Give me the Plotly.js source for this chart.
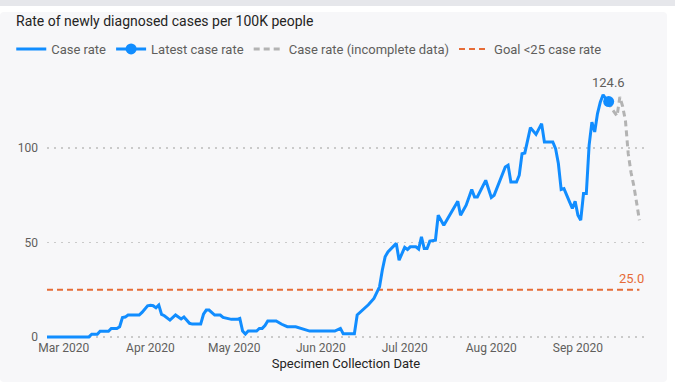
<!DOCTYPE html>
<html>
<head>
<meta charset="utf-8">
<script src="https://cdn.plot.ly/plotly-3.0.1.min.js"></script>
<style>
  html, body { margin: 0; padding: 0; background: #ffffff; width: 675px; height: 389px; overflow: hidden; }
  #topband { position: absolute; left: 0; top: 0; width: 675px; height: 6px; background: #e6e7eb; }
  #card { position: absolute; left: 0; top: 12px; width: 667px; height: 370px; background: #f7f7f9; border-radius: 4px; }
  #chart { position: absolute; left: 0; top: 0; width: 675px; height: 389px; }
</style>
</head>
<body>
<div id="topband"></div>
<div id="card"></div>
<div id="chart"></div>
<script>
// Case rate (complete data)
const caseDates = ['2020-02-24','2020-03-10','2020-03-11','2020-03-13','2020-03-14','2020-03-17','2020-03-18','2020-03-20','2020-03-21','2020-03-22','2020-03-23','2020-03-24','2020-03-28','2020-03-29','2020-03-31','2020-04-01','2020-04-02','2020-04-03','2020-04-04','2020-04-05','2020-04-06','2020-04-08','2020-04-10','2020-04-12','2020-04-13','2020-04-15','2020-04-16','2020-04-19','2020-04-20','2020-04-21','2020-04-22','2020-04-24','2020-04-26','2020-04-27','2020-04-30','2020-05-02','2020-05-03','2020-05-04','2020-05-05','2020-05-06','2020-05-09','2020-05-10','2020-05-11','2020-05-12','2020-05-13','2020-05-16','2020-05-18','2020-05-20','2020-05-23','2020-05-25','2020-05-28','2020-06-06','2020-06-08','2020-06-09','2020-06-13','2020-06-14','2020-06-15','2020-06-17','2020-06-18','2020-06-20','2020-06-22','2020-06-23','2020-06-24','2020-06-25','2020-06-26','2020-06-28','2020-06-29','2020-07-01','2020-07-02','2020-07-03','2020-07-05','2020-07-06','2020-07-07','2020-07-08','2020-07-09','2020-07-10','2020-07-12','2020-07-13','2020-07-15','2020-07-20','2020-07-21','2020-07-23','2020-07-25','2020-07-26','2020-07-27','2020-07-30','2020-08-01','2020-08-02','2020-08-06','2020-08-07','2020-08-08','2020-08-10','2020-08-11','2020-08-12','2020-08-13','2020-08-15','2020-08-17','2020-08-19','2020-08-20','2020-08-23','2020-08-24','2020-08-25','2020-08-26','2020-08-27','2020-08-29','2020-08-30','2020-08-31','2020-09-01','2020-09-02','2020-09-03','2020-09-04','2020-09-05','2020-09-06','2020-09-07','2020-09-08','2020-09-09','2020-09-10','2020-09-11','2020-09-12'];
const caseRate = [0,0,1.4,1.4,3,3,4.5,4.5,5.4,10.2,10.5,11.6,11.6,13,16.5,16.8,16.5,15.4,16.9,11.9,11.2,8.9,11.6,9.5,10.5,7.2,6.8,6.8,12,14.2,14.2,11.6,11.6,10.3,9.3,9.3,9.8,3.1,1.5,3.1,3.1,4.5,4.5,6,8.4,8.4,6.7,5.4,5.4,4.5,3.1,3.1,4.5,1.7,1.7,11.6,13,16,17,20.4,26.5,35.4,42.4,45,46.5,49.5,40.6,47.4,46.3,47.7,47.7,46.5,53,46.8,46.8,50.7,51.2,64.4,59.1,71.8,64.4,69.7,78,74.1,74.1,82.9,73.8,75,90,90.9,82,82,85.6,97,97.4,110.8,107.2,112.9,103.2,103.2,99.7,91.8,78,78.5,71.5,68,71.8,64.4,61.8,75.9,75.9,101.4,113.7,108.5,118.2,124.3,128.2,126,124.6];

// Case rate (incomplete data)
const incDates = ['2020-09-12','2020-09-13','2020-09-14','2020-09-15','2020-09-16','2020-09-17','2020-09-18','2020-09-19','2020-09-20','2020-09-21','2020-09-22','2020-09-23'];
const incRate = [124.6,121,119,117,127,122,114.5,97,87,80,71,61.8];

// Latest case rate
const latestDate = ['2020-09-12'];
const latestRate = [124.6];

// Goal
const goalDates = ['2020-02-24','2020-09-23'];
const goalRate = [25, 25];

const names = ['Case rate', 'Latest case rate', 'Case rate (incomplete data)', 'Goal <25 case rate'];
const xTickFormat = '%b %Y';

const BLUE = '#118DFF', GRAY = '#B3B3B3', ORANGE = '#E66C37';
const FONT = 'Roboto, "Open Sans", sans-serif';

const traces = [
  { x: goalDates, y: goalRate, name: names[3], mode: 'lines', legendrank: 4,
    line: { color: ORANGE, width: 2, dash: '6px,4px' }, hoverinfo: 'skip' },
  { x: incDates, y: incRate, name: names[2], mode: 'lines', legendrank: 3,
    line: { color: GRAY, width: 3, dash: '6px,4px' }, hoverinfo: 'skip' },
  { x: caseDates, y: caseRate, name: names[0], mode: 'lines', legendrank: 1,
    line: { color: BLUE, width: 3 }, hoverinfo: 'skip' },
  { x: latestDate, y: latestRate, name: names[1], mode: 'lines+markers', legendrank: 2,
    line: { color: BLUE, width: 3 }, marker: { color: BLUE, size: 11 }, hoverinfo: 'skip' }
];

const layout = {
  width: 675, height: 389,
  paper_bgcolor: 'rgba(0,0,0,0)', plot_bgcolor: 'rgba(0,0,0,0)',
  margin: { l: 46, r: 30, t: 80, b: 50 },
  font: { family: FONT, color: '#605E5C', size: 12 },
  title: { text: 'Rate of newly diagnosed cases per 100K people', x: 16/675, xanchor: 'left', xref: 'container',
           y: 1 - 21/389, yref: 'container', yanchor: 'middle',
           font: { family: FONT, size: 14, color: '#252423' } },
  showlegend: true,
  legend: { orientation: 'h', x: -0.058, xanchor: 'left', y: 1 + (80-49)/259, yanchor: 'middle',
            font: { family: FONT, size: 13, color: '#605E5C' }, bgcolor: 'rgba(0,0,0,0)',
            itemwidth: 30, tracegroupgap: 0 },
  xaxis: {
    type: 'date', range: ['2020-02-24', '2020-09-25'],
    tick0: '2020-03-01', dtick: 'M1', tickformat: xTickFormat,
    showgrid: false, zeroline: false, showline: false, ticks: '',
    tickfont: { size: 12, color: '#605E5C' },
    title: { text: 'Specimen Collection Date', standoff: 4, font: { size: 13, color: '#252423' } }
  },
  yaxis: {
    range: [-1.1, 136], tickvals: [0, 50, 100], ticktext: ['0', '50', '100'],
    showgrid: true, gridcolor: '#CACACA', griddash: '1.5px,5.5px', gridwidth: 1.2,
    zeroline: false, showline: false, ticks: '', ticklabelstandoff: 8,
    tickfont: { size: 12, color: '#605E5C' }
  },
  annotations: [
    { x: '2020-09-12', y: 124.6, xref: 'x', yref: 'y', text: '124.6', showarrow: false,
      yshift: 19, font: { size: 13, color: '#605E5C' } },
    { x: '2020-09-20', y: 25, xref: 'x', yref: 'y', text: '25.0', showarrow: false,
      yshift: 11, font: { size: 13, color: ORANGE } }
  ]
};

Plotly.newPlot('chart', traces, layout, { displayModeBar: false, staticPlot: true });
</script>
</body>
</html>
